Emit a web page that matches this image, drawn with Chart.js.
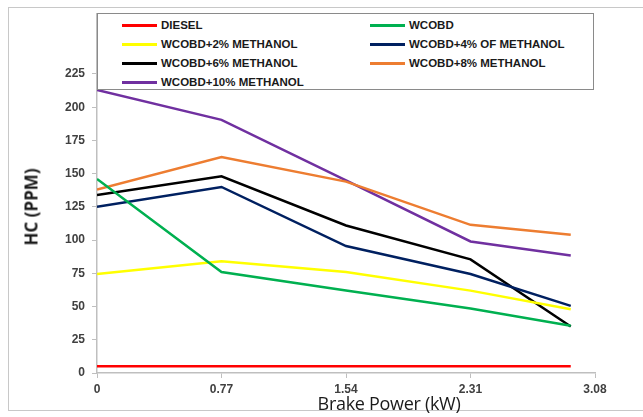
<!DOCTYPE html>
<html>
<head>
<meta charset="utf-8">
<script src="https://cdn.jsdelivr.net/npm/chart.js@4/dist/chart.umd.min.js"></script>
<style>
    body { margin: 0; background: #fff; }
    #wrap { position: relative; width: 643px; height: 417px; overflow: hidden; }
    #frame {
        position: absolute; left: 8px; top: 7px; width: 700px; height: 404px;
        border: 1px solid #c8c8c8; box-sizing: border-box;
    }
    #legend {
        position: absolute; left: 97px; top: 13px; width: 497px; height: 77px;
        border: 1.5px solid #8a8a8a; box-sizing: border-box; background: #fff;
        font: bold 11.5px "Liberation Sans", Arial, sans-serif; color: #1a1a1a;
    }
    .item { position: absolute; height: 14px; line-height: 14px; white-space: nowrap; }
    .item span.swatch { position: absolute; left: 0; top: 6px; width: 35px; height: 3px; }
    .item span.txt { position: absolute; left: 39px; top: 0; }
    .axtitle { position: absolute; white-space: nowrap; color: #1a1a1a; }
    #ytitle {
        left: 31px; top: 207px; transform: translate(-50%, -50%) rotate(-90deg);
        font: bold 17px "Open Sans", sans-serif;
    }
    #xtitle {
        left: 389px; top: 403px; transform: translate(-50%, -50%);
        font: 18px "Open Sans", sans-serif; letter-spacing: -0.3px;
    }
</style>
</head>
<body>
<div id="wrap">
    <div id="frame"></div>
    <canvas id="hcChart"></canvas>
    <div id="legend"></div>
    <div class="axtitle" id="ytitle">HC (PPM)</div>
    <div class="axtitle" id="xtitle">Brake Power (kW)</div>
</div>

<script>

/* =======================
   DADOS
======================= */

const brakePower = [0, 0.77, 1.54, 2.31, 2.93];

const xTicks = [0, 0.77, 1.54, 2.31, 3.08];
const yTicks = [0, 25, 50, 75, 100, 125, 150, 175, 200, 225];

const seriesNames = [
    "DIESEL",
    "WCOBD",
    "WCOBD+2% METHANOL",
    "WCOBD+4% OF METHANOL",
    "WCOBD+6% METHANOL",
    "WCOBD+8% METHANOL",
    "WCOBD+10% METHANOL"
];

const seriesColors = [
    "#ff0000",
    "#00b050",
    "#ffff00",
    "#002060",
    "#000000",
    "#ed7d31",
    "#7030a0"
];

const diesel    = [5, 5, 5, 5, 5];
const wcobd     = [146, 76, 62, 48.5, 35.5];
const methanol2 = [74.5, 84, 76, 62, 48];
const methanol4 = [125, 140, 95.5, 74.5, 50.5];
const methanol6 = [134, 148, 111, 85.5, 35];
const methanol8 = [138, 162.5, 144, 111.5, 104];
const methanol10 = [213, 190.5, 145, 99, 88.5];

const seriesValues = [diesel, wcobd, methanol2, methanol4, methanol6, methanol8, methanol10];

/* =======================
   LEGENDA
======================= */

function buildLegend() {

    const legend = document.getElementById("legend");

    seriesNames.forEach((name, i) => {

        const col = i % 2;
        const row = Math.floor(i / 2);

        const item = document.createElement("div");
        item.className = "item";
        item.style.left = (col === 0 ? 24 : 272) + "px";
        item.style.top = (4 + row * 19) + "px";

        const swatch = document.createElement("span");
        swatch.className = "swatch";
        swatch.style.background = seriesColors[i];

        const txt = document.createElement("span");
        txt.className = "txt";
        txt.textContent = name;

        item.appendChild(swatch);
        item.appendChild(txt);
        legend.appendChild(item);
    });
}

/* =======================
   GRÁFICO
======================= */

function buildChart() {

    const tickFont = { family: "Liberation Sans", size: 12, weight: "bold" };

    const datasets = seriesNames.map((name, i) => ({
        label: name,
        data: brakePower.map((x, j) => ({ x, y: seriesValues[i][j] })),
        borderColor: seriesColors[i],
        backgroundColor: seriesColors[i],
        borderWidth: 2.5,
        pointRadius: 0,
        tension: 0
    }));

    new Chart(
        document.getElementById("hcChart"),
        {
            type: "line",
            data: { datasets },
            options: {
                responsive: true,
                maintainAspectRatio: false,
                animation: false,
                layout: {
                    padding: { left: 0, top: 14, right: 48, bottom: 0 }
                },
                plugins: {
                    legend: { display: false },
                    tooltip: { enabled: false }
                },
                scales: {
                    x: {
                        type: "linear",
                        min: 0,
                        max: 3.08,
                        afterBuildTicks: s => { s.ticks = xTicks.map(v => ({ value: v })); },
                        afterFit: s => { s.height = 44; },
                        ticks: {
                            font: tickFont,
                            color: "#404040",
                            padding: 4,
                            maxRotation: 0,
                            callback: v => String(v)
                        },
                        grid: {
                            drawOnChartArea: false,
                            tickLength: 5,
                            color: "#bfbfbf"
                        },
                        border: { color: "#bfbfbf", width: 1.5 }
                    },
                    y: {
                        min: 0,
                        max: 270,
                        afterBuildTicks: s => { s.ticks = yTicks.map(v => ({ value: v })); },
                        afterFit: s => { s.width = 97; },
                        ticks: {
                            font: tickFont,
                            color: "#404040",
                            padding: 7
                        },
                        grid: {
                            drawOnChartArea: false,
                            tickLength: 5,
                            color: "#bfbfbf"
                        },
                        border: { color: "#bfbfbf", width: 1.5 }
                    }
                }
            }
        }
    );
}

document.addEventListener("DOMContentLoaded", () => {

    buildLegend();

    buildChart();

});

</script>
</body>
</html>
